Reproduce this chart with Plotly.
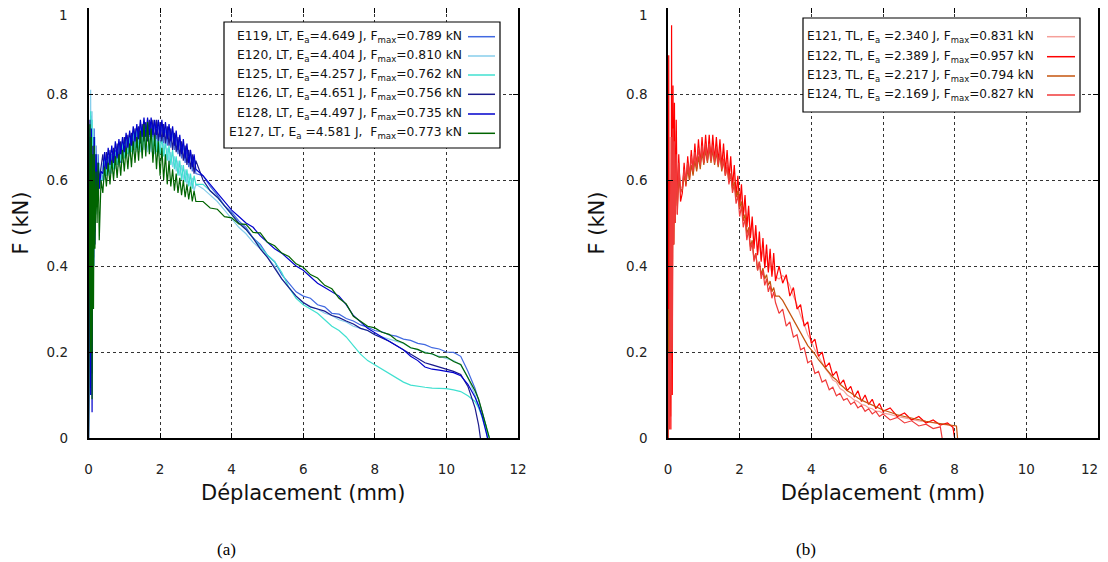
import plotly.graph_objects as go

# page is 1108x562; the html body has an 8px default margin, so the figure is 1100x554
PAGE_W, PAGE_H, OFF = 1108, 562, 8
W, H = PAGE_W - OFF, PAGE_H - OFF

# ---------------- data : panel (a) LT ----------------
X_LT = [0.00, 0.04, 0.06, 0.08, 0.10, 0.12, 0.14, 0.16, 0.18, 0.21, 0.24, 0.27, 0.30, 0.35,
        0.40, 0.45, 0.50, 0.55, 0.60, 0.65, 0.70, 0.75, 0.80, 0.85, 0.90, 0.95,
        1.00, 1.05, 1.10, 1.15, 1.20, 1.25, 1.30, 1.35, 1.40, 1.45, 1.50, 1.55, 1.60, 1.65,
        1.70, 1.75, 1.80, 1.85, 1.90, 1.95,
        2.00, 2.05, 2.10, 2.15, 2.20, 2.25, 2.30, 2.35, 2.40, 2.45, 2.50, 2.55, 2.60, 2.65,
        2.70, 2.75, 2.80, 2.85, 2.90, 2.95, 3.00,
        3.20, 3.40, 3.60, 3.80, 4.00, 4.20, 4.40, 4.60, 4.80, 5.00, 5.20, 5.40, 5.60, 5.80,
        6.00, 6.20, 6.40, 6.60, 6.80, 7.00, 7.20, 7.40, 7.60, 7.80, 8.00, 8.20, 8.40, 8.60,
        8.80, 9.00, 9.20, 9.40, 9.60, 9.80, 10.00, 10.20, 10.40]

E119_Y = [0.00, 0.72, 0.30, 0.75, 0.20, 0.70, 0.42, 0.72, 0.50, 0.68, 0.55, 0.66, 0.58, 0.62,
          0.60, 0.65, 0.61, 0.655, 0.615, 0.66, 0.625, 0.67, 0.635, 0.68,
          0.64, 0.69, 0.655, 0.70, 0.66, 0.705, 0.67, 0.715, 0.675, 0.72,
          0.68, 0.725, 0.685, 0.73, 0.69, 0.735, 0.69, 0.735, 0.695, 0.735,
          0.69, 0.735, 0.69, 0.73, 0.685, 0.725, 0.68, 0.72, 0.675, 0.715,
          0.67, 0.705, 0.66, 0.695, 0.65, 0.685, 0.64, 0.675, 0.63, 0.665,
          0.62, 0.655, 0.615,
          0.61, 0.585, 0.565, 0.54, 0.525, 0.505, 0.49, 0.465, 0.45, 0.425, 0.41, 0.38, 0.36,
          0.34, 0.33, 0.325, 0.31, 0.305, 0.29, 0.288, 0.278, 0.272, 0.263, 0.258, 0.25,
          0.247, 0.24, 0.237, 0.23, 0.227, 0.22, 0.217, 0.21, 0.207, 0.20, 0.199, 0.19]
E119_END_X = [10.6, 10.8, 10.9, 11.0, 11.1, 11.15]
E119_END_Y = [0.155, 0.115, 0.09, 0.06, 0.03, 0.0]

E120_Y = [0.00, 0.60, 0.81, 0.35, 0.76, 0.45, 0.72, 0.40, 0.70, 0.52, 0.66, 0.58, 0.64, 0.60,
          0.64, 0.60, 0.645, 0.61, 0.65, 0.615, 0.66, 0.625, 0.665, 0.63,
          0.675, 0.64, 0.68, 0.65, 0.69, 0.655, 0.695, 0.66, 0.70, 0.665,
          0.705, 0.665, 0.705, 0.67, 0.705, 0.665, 0.70, 0.665, 0.70, 0.66,
          0.695, 0.655, 0.69, 0.65, 0.685, 0.645, 0.675, 0.64, 0.665, 0.63,
          0.655, 0.62, 0.645, 0.61, 0.635, 0.60, 0.625, 0.59, 0.615, 0.585,
          0.605, 0.575, 0.59,
          0.58, 0.565, 0.55, 0.53, 0.51, 0.49, 0.475, 0.455, 0.44, 0.42, 0.40, 0.37, 0.35,
          0.33, 0.315, 0.305, 0.30, 0.29, 0.285, 0.275, 0.27, 0.26, 0.255, 0.25, 0.24,
          0.235, 0.23, 0.225, 0.22, 0.21, 0.205, 0.20, 0.195, 0.19, 0.185, 0.18, 0.17]
E120_END_X = [10.6, 10.8, 10.9, 11.0, 11.1, 11.15]
E120_END_Y = [0.14, 0.10, 0.075, 0.05, 0.02, 0.0]

E125_Y = [0.00, 0.55, 0.76, 0.30, 0.74, 0.40, 0.70, 0.45, 0.66, 0.55, 0.64, 0.57, 0.62, 0.60,
          0.60, 0.645, 0.61, 0.65, 0.62, 0.66, 0.625, 0.665, 0.635, 0.675,
          0.645, 0.685, 0.65, 0.695, 0.66, 0.70, 0.665, 0.71, 0.67, 0.715,
          0.67, 0.715, 0.675, 0.715, 0.675, 0.715, 0.67, 0.71, 0.67, 0.71,
          0.665, 0.705, 0.66, 0.70, 0.655, 0.69, 0.645, 0.68, 0.635, 0.67,
          0.625, 0.655, 0.61, 0.645, 0.60, 0.635, 0.595, 0.625, 0.585, 0.615,
          0.58, 0.61, 0.59,
          0.59, 0.575, 0.56, 0.54, 0.52, 0.50, 0.485, 0.465, 0.445, 0.425, 0.41, 0.385, 0.35,
          0.325, 0.31, 0.30, 0.29, 0.275, 0.26, 0.25, 0.235, 0.215, 0.195, 0.18, 0.17,
          0.16, 0.148, 0.14, 0.13, 0.123, 0.12, 0.118, 0.116, 0.115, 0.115, 0.112, 0.108]
E125_END_X = [10.6, 10.8, 10.9, 11.0, 11.1, 11.2]
E125_END_Y = [0.098, 0.085, 0.07, 0.05, 0.03, 0.0]

E126_Y = [0.00, 0.74, 0.25, 0.70, 0.15, 0.68, 0.40, 0.70, 0.48, 0.66, 0.56, 0.64, 0.60, 0.63,
          0.66, 0.615, 0.665, 0.62, 0.67, 0.63, 0.675, 0.635, 0.685, 0.645,
          0.69, 0.65, 0.70, 0.66, 0.705, 0.665, 0.71, 0.67, 0.72, 0.675,
          0.725, 0.685, 0.73, 0.69, 0.735, 0.69, 0.74, 0.695, 0.74, 0.69,
          0.74, 0.69, 0.735, 0.69, 0.73, 0.685, 0.725, 0.68, 0.72, 0.67,
          0.71, 0.665, 0.70, 0.655, 0.69, 0.645, 0.68, 0.635, 0.67, 0.625,
          0.66, 0.615, 0.645,
          0.60, 0.575, 0.56, 0.54, 0.52, 0.50, 0.485, 0.465, 0.44, 0.42, 0.395, 0.37, 0.35,
          0.33, 0.315, 0.305, 0.30, 0.295, 0.285, 0.28, 0.272, 0.265, 0.255, 0.25, 0.24,
          0.232, 0.225, 0.215, 0.205, 0.195, 0.185, 0.175, 0.17, 0.165, 0.16, 0.155, 0.148]
E126_END_X = [10.6, 10.8, 10.9, 10.95]
E126_END_Y = [0.12, 0.07, 0.03, 0.0]

E128_Y = [0.00, 0.70, 0.10, 0.72, 0.06, 0.66, 0.42, 0.70, 0.45, 0.66, 0.54, 0.64, 0.58, 0.62,
          0.615, 0.665, 0.625, 0.675, 0.635, 0.68, 0.64, 0.69, 0.65, 0.695,
          0.66, 0.70, 0.665, 0.71, 0.675, 0.715, 0.68, 0.725, 0.69, 0.73,
          0.695, 0.74, 0.70, 0.745, 0.70, 0.745, 0.705, 0.745, 0.705, 0.74,
          0.705, 0.74, 0.70, 0.74, 0.70, 0.735, 0.695, 0.73, 0.69, 0.725,
          0.68, 0.715, 0.67, 0.705, 0.66, 0.695, 0.65, 0.685, 0.64, 0.67,
          0.63, 0.66, 0.625,
          0.61, 0.59, 0.57, 0.55, 0.53, 0.515, 0.50, 0.49, 0.47, 0.455, 0.44, 0.43, 0.415,
          0.40, 0.39, 0.375, 0.36, 0.35, 0.34, 0.33, 0.31, 0.285, 0.27, 0.255, 0.245,
          0.235, 0.225, 0.215, 0.205, 0.19, 0.18, 0.165, 0.16, 0.158, 0.155, 0.152, 0.145]
E128_END_X = [10.6, 10.8, 10.9, 11.0, 11.1, 11.15]
E128_END_Y = [0.125, 0.095, 0.075, 0.05, 0.02, 0.0]

E127_Y = [0.00, 0.73, 0.20, 0.70, 0.09, 0.66, 0.30, 0.68, 0.44, 0.62, 0.50, 0.64, 0.46, 0.60,
          0.57, 0.63, 0.585, 0.64, 0.59, 0.645, 0.60, 0.655, 0.605, 0.66,
          0.61, 0.67, 0.62, 0.675, 0.625, 0.685, 0.63, 0.69, 0.64, 0.70,
          0.645, 0.715, 0.65, 0.73, 0.655, 0.735, 0.66, 0.72, 0.64, 0.705,
          0.625, 0.69, 0.61, 0.675, 0.60, 0.66, 0.59, 0.645, 0.585, 0.625,
          0.575, 0.615, 0.57, 0.605, 0.565, 0.60, 0.56, 0.59, 0.555, 0.585,
          0.55, 0.575, 0.55,
          0.55, 0.535, 0.532, 0.515, 0.512, 0.498, 0.497, 0.478, 0.477, 0.455, 0.447, 0.43,
          0.422, 0.405, 0.397, 0.38, 0.372, 0.355, 0.347, 0.325, 0.312, 0.283, 0.272, 0.26,
          0.256, 0.246, 0.241, 0.228, 0.221, 0.21, 0.206, 0.198, 0.196, 0.188, 0.189, 0.178, 0.171]
E127_END_X = [10.6, 10.8, 10.9, 11.0, 11.1, 11.2]
E127_END_Y = [0.14, 0.11, 0.09, 0.06, 0.035, 0.0]

# ---------------- data : panel (b) TL ----------------
X_TL = [0.00, 0.02, 0.04, 0.06, 0.08, 0.10, 0.12, 0.14, 0.16, 0.18, 0.20, 0.23, 0.26, 0.30, 0.35,
        0.40, 0.45, 0.50, 0.55, 0.60, 0.65, 0.70, 0.75, 0.80, 0.85, 0.90, 0.95,
        1.00, 1.05, 1.10, 1.15, 1.20, 1.25, 1.30, 1.35, 1.40, 1.45, 1.50, 1.55, 1.60, 1.65,
        1.70, 1.75, 1.80, 1.85, 1.90, 1.95,
        2.00, 2.05, 2.10, 2.15, 2.20, 2.25, 2.30, 2.35, 2.40, 2.45, 2.50, 2.55, 2.60, 2.65,
        2.70, 2.75, 2.80, 2.85, 2.90, 2.95, 3.00,
        3.10, 3.20, 3.30, 3.40, 3.50, 3.60, 3.70, 3.80, 3.90, 4.00, 4.10, 4.20, 4.30, 4.40,
        4.50, 4.60, 4.70, 4.80, 4.90, 5.00, 5.10, 5.20, 5.30, 5.40, 5.50, 5.60, 5.70, 5.80,
        5.90, 6.00, 6.20, 6.40, 6.60, 6.80, 7.00, 7.20, 7.40, 7.60]

E121_Y = [0.0, 0.5, 0.1, 0.7, 0.05, 0.6, 0.3, 0.75, 0.5, 0.70, 0.55, 0.68, 0.56, 0.64, 0.58,
          0.585, 0.63, 0.60, 0.645, 0.615, 0.66, 0.625, 0.67, 0.635, 0.68,
          0.645, 0.685, 0.65, 0.69, 0.655, 0.69, 0.655, 0.69, 0.65, 0.685,
          0.645, 0.68, 0.635, 0.665, 0.62, 0.65, 0.60, 0.635, 0.585, 0.615,
          0.56, 0.59, 0.54, 0.57, 0.515, 0.545, 0.49, 0.52, 0.47, 0.50,
          0.45, 0.475, 0.43, 0.455, 0.415, 0.44, 0.40, 0.425, 0.39, 0.41,
          0.38, 0.40, 0.375,
          0.37, 0.378, 0.37, 0.355, 0.33, 0.31, 0.285, 0.265, 0.24, 0.225, 0.205, 0.19, 0.175,
          0.16, 0.15, 0.135, 0.13, 0.115, 0.11, 0.10, 0.095, 0.088, 0.085, 0.078, 0.076, 0.07,
          0.068, 0.062, 0.062, 0.058, 0.055, 0.05, 0.047, 0.043, 0.04, 0.038, 0.035, 0.033]
E121_END_X = [7.8, 7.95, 8.0]
E121_END_Y = [0.03, 0.028, 0.0]

E122_Y = [0.0, 0.89, 0.05, 0.60, 0.02, 0.96, 0.10, 0.82, 0.45, 0.78, 0.50, 0.74, 0.52, 0.66, 0.55,
          0.57, 0.64, 0.585, 0.655, 0.60, 0.67, 0.615, 0.685, 0.625, 0.695,
          0.635, 0.70, 0.64, 0.705, 0.645, 0.705, 0.645, 0.705, 0.645, 0.70,
          0.64, 0.695, 0.63, 0.685, 0.62, 0.67, 0.605, 0.655, 0.585, 0.635,
          0.565, 0.61, 0.54, 0.59, 0.515, 0.565, 0.49, 0.54, 0.465, 0.515,
          0.44, 0.495, 0.425, 0.48, 0.41, 0.465, 0.395, 0.45, 0.385, 0.44,
          0.375, 0.43, 0.365,
          0.40, 0.36, 0.38, 0.33, 0.35, 0.30, 0.31, 0.26, 0.27, 0.22, 0.23, 0.19, 0.20,
          0.165, 0.175, 0.145, 0.155, 0.125, 0.135, 0.11, 0.12, 0.095, 0.11, 0.085, 0.10,
          0.078, 0.09, 0.068, 0.08, 0.062, 0.07, 0.05, 0.058, 0.042, 0.05, 0.035, 0.042, 0.03]
E122_END_X = [7.8, 7.95, 8.0]
E122_END_Y = [0.035, 0.025, 0.0]

E123_Y = [0.0, 0.3, 0.05, 0.55, 0.2, 0.62, 0.35, 0.64, 0.45, 0.63, 0.50, 0.62, 0.54, 0.60, 0.58,
          0.575, 0.61, 0.59, 0.625, 0.60, 0.635, 0.61, 0.645, 0.62, 0.655,
          0.625, 0.665, 0.635, 0.67, 0.64, 0.675, 0.64, 0.67, 0.635, 0.665,
          0.63, 0.66, 0.62, 0.645, 0.61, 0.63, 0.595, 0.615, 0.58, 0.595,
          0.56, 0.575, 0.535, 0.55, 0.505, 0.52, 0.475, 0.49, 0.445, 0.46,
          0.415, 0.43, 0.39, 0.41, 0.38, 0.395, 0.37, 0.38, 0.355, 0.365,
          0.34, 0.35, 0.33,
          0.33, 0.32, 0.305, 0.29, 0.275, 0.26, 0.245, 0.232, 0.215, 0.205, 0.195, 0.182,
          0.172, 0.16, 0.152, 0.142, 0.135, 0.125, 0.118, 0.11, 0.105, 0.098, 0.093, 0.088,
          0.084, 0.08, 0.076, 0.072, 0.068, 0.065, 0.06, 0.054, 0.05, 0.046, 0.042, 0.039,
          0.036, 0.034]
E123_END_X = [7.8, 8.05, 8.08]
E123_END_Y = [0.032, 0.028, 0.0]

E124_Y = [0.0, 0.2, 0.02, 0.6, 0.1, 0.7, 0.2, 0.72, 0.45, 0.69, 0.5, 0.66, 0.52, 0.64, 0.57,
          0.58, 0.625, 0.595, 0.64, 0.61, 0.655, 0.62, 0.665, 0.63, 0.675,
          0.635, 0.68, 0.64, 0.685, 0.645, 0.685, 0.645, 0.68, 0.64, 0.675,
          0.635, 0.665, 0.625, 0.65, 0.61, 0.635, 0.59, 0.615, 0.57, 0.59,
          0.545, 0.565, 0.515, 0.54, 0.49, 0.51, 0.46, 0.485, 0.435, 0.455,
          0.41, 0.43, 0.39, 0.41, 0.37, 0.39, 0.355, 0.37, 0.34, 0.355,
          0.325, 0.34, 0.315,
          0.29, 0.30, 0.26, 0.27, 0.235, 0.24, 0.205, 0.21, 0.175, 0.18, 0.15, 0.155, 0.13,
          0.135, 0.112, 0.118, 0.098, 0.104, 0.088, 0.092, 0.078, 0.084, 0.07, 0.076, 0.062,
          0.068, 0.056, 0.062, 0.05, 0.056, 0.042, 0.048, 0.035, 0.04, 0.028, 0.032, 0.022, 0.026]
E124_END_X = [7.65]
E124_END_Y = [0.0]

LT_NAMES = ["E119", "E120", "E125", "E126", "E128", "E127"]
LT_LABELS = [
    "E119, LT, E<sub>a</sub>=4.649 J, F<sub>max</sub>=0.789 kN",
    "E120, LT, E<sub>a</sub>=4.404 J, F<sub>max</sub>=0.810 kN",
    "E125, LT, E<sub>a</sub>=4.257 J, F<sub>max</sub>=0.762 kN",
    "E126, LT, E<sub>a</sub>=4.651 J, F<sub>max</sub>=0.756 kN",
    "E128, LT, E<sub>a</sub>=4.497 J, F<sub>max</sub>=0.735 kN",
    "E127, LT, E<sub>a</sub> =4.581 J,  F<sub>max</sub>=0.773 kN",
]
TL_NAMES = ["E121", "E122", "E123", "E124"]
TL_LABELS = [
    "E121, TL, E<sub>a</sub> =2.340 J, F<sub>max</sub>=0.831 kN",
    "E122, TL, E<sub>a</sub> =2.389 J, F<sub>max</sub>=0.957 kN",
    "E123, TL, E<sub>a</sub> =2.217 J, F<sub>max</sub>=0.794 kN",
    "E124, TL, E<sub>a</sub> =2.169 J, F<sub>max</sub>=0.827 kN",
]
LT_COLORS = ["#4169E1", "#87CEEB", "#40E0D0", "#1A1A8C", "#0000CD", "#006400"]
TL_COLORS = ["#F5A09A", "#FF0000", "#C4540E", "#F03A3A"]

LT_SERIES = [(E119_Y, E119_END_X, E119_END_Y), (E120_Y, E120_END_X, E120_END_Y),
             (E125_Y, E125_END_X, E125_END_Y), (E126_Y, E126_END_X, E126_END_Y),
             (E128_Y, E128_END_X, E128_END_Y), (E127_Y, E127_END_X, E127_END_Y)]
TL_SERIES = [(E121_Y, E121_END_X, E121_END_Y), (E122_Y, E122_END_X, E122_END_Y),
             (E123_Y, E123_END_X, E123_END_Y), (E124_Y, E124_END_X, E124_END_Y)]

X_TICKS = [0, 2, 4, 6, 8, 10, 12]
X_TICKTEXT = ["0", "2", "4", "6", "8", "10", "12"]
X2_TICKTEXT = ["0", "2", "4", "6", "8", "10", ""]     # right-most "12" drawn pulled in, as in the reference
Y_TICKS = [0, 0.2, 0.4, 0.6, 0.8, 1]
Y_TICKTEXT = ["0", "0.2", "0.4", "0.6", "0.8", ""]   # "1" is drawn slightly lower, as in the reference

fig = go.Figure()

for name, color, (ys, ex, ey) in zip(LT_NAMES, LT_COLORS, LT_SERIES):
    if len(ys) != len(X_LT):
        raise ValueError(f"{name}: {len(ys)} vs {len(X_LT)}")
    fig.add_trace(go.Scatter(x=X_LT + ex, y=ys + ey, mode="lines", name=name,
                             line=dict(color=color, width=1.2), xaxis="x", yaxis="y",
                             showlegend=False))

for name, color, (ys, ex, ey) in zip(TL_NAMES, TL_COLORS, TL_SERIES):
    if len(ys) != len(X_TL):
        raise ValueError(f"{name}: {len(ys)} vs {len(X_TL)}")
    fig.add_trace(go.Scatter(x=X_TL + ex, y=ys + ey, mode="lines", name=name,
                             line=dict(color=color, width=1.2), xaxis="x2", yaxis="y2",
                             showlegend=False))


def px(x):
    """page pixel x -> paper fraction"""
    return (x - OFF) / W


def py(y):
    """page pixel y -> paper fraction"""
    return 1 - (y - OFF) / H


tick_font = dict(family="DejaVu Sans", size=13.5, color="#222")
title_font = dict(family="DejaVu Sans", size=21, color="#111")

common = dict(showgrid=True, gridcolor="#333", griddash="dot", gridwidth=1,
              showline=True, linecolor="black", linewidth=1.5, mirror="ticks",
              ticks="inside", ticklen=5, tickcolor="black", zeroline=False,
              tickfont=tick_font, automargin=False, ticklabeloverflow="allow")

ydom = [py(438), py(8)]
fig.update_layout(
    template="none",
    width=W, height=H, autosize=False,
    margin=dict(l=0, r=0, t=0, b=0),
    paper_bgcolor="white", plot_bgcolor="white",
    showlegend=False,
    xaxis=dict(domain=[px(88.5), px(518)], range=[0, 12.0001], tickvals=X_TICKS,
               ticktext=X_TICKTEXT, anchor="y", ticklabelstandoff=18,
               title=dict(text="Déplacement (mm)", font=title_font, standoff=9), **common),
    yaxis=dict(domain=ydom, range=[0, 1.0001], tickvals=Y_TICKS, ticktext=Y_TICKTEXT,
               anchor="x", ticklabelstandoff=16,
               title=dict(text="F (kN)", font=title_font, standoff=12), **common),
    xaxis2=dict(domain=[px(668), px(1098)], range=[0, 12.0001], tickvals=X_TICKS,
                ticktext=X2_TICKTEXT, anchor="y2", ticklabelstandoff=18,
                title=dict(text="Déplacement (mm)", font=title_font, standoff=9), **common),
    yaxis2=dict(domain=ydom, range=[0, 1.0001], tickvals=Y_TICKS, ticktext=Y_TICKTEXT,
                anchor="x2", ticklabelstandoff=16,
                title=dict(text="F (kN)", font=title_font, standoff=16), **common),
)

shapes = []
annotations = []


def build_legend(box, rows, labels, colors, text_right, line_x, fsize):
    x0, x1, y0, y1 = box
    font = dict(family="DejaVu Sans", size=fsize, color="#111")
    shapes.append(dict(type="rect", xref="paper", yref="paper", x0=px(x0), x1=px(x1),
                       y0=py(y1), y1=py(y0), line=dict(color="black", width=1.2),
                       fillcolor="white", layer="above"))
    for yy, lab, col in zip(rows, labels, colors):
        annotations.append(dict(xref="paper", yref="paper", x=px(text_right), y=py(yy),
                                text=lab, showarrow=False, xanchor="right", yanchor="middle",
                                font=font))
        shapes.append(dict(type="line", xref="paper", yref="paper", x0=px(line_x[0]),
                           x1=px(line_x[1]), y0=py(yy), y1=py(yy),
                           line=dict(color=col, width=1.5), layer="above"))


build_legend((224, 500, 22, 148), [36.7, 56, 75, 94.3, 114, 133.3], LT_LABELS, LT_COLORS,
             464, (468, 495), 12.3)
build_legend((803, 1080, 18, 112), [36.7, 56.7, 76, 95], TL_LABELS, TL_COLORS,
             1036, (1047, 1075), 12.1)

# edge tick labels placed inside the page, like the reference
for xr in (69.5, 649.5):
    annotations.append(dict(xref="paper", yref="paper", x=px(xr), y=py(15), text="1",
                            showarrow=False, xanchor="right", yanchor="middle", font=tick_font))
annotations.append(dict(xref="paper", yref="paper", x=px(1100), y=py(469), text="12",
                        showarrow=False, xanchor="right", yanchor="middle", font=tick_font))

cap_font = dict(family="Liberation Serif", size=17, color="black")
annotations.append(dict(xref="paper", yref="paper", x=px(226), y=py(549), text="(a)",
                        showarrow=False, xanchor="center", yanchor="middle", font=cap_font))
annotations.append(dict(xref="paper", yref="paper", x=px(806), y=py(549), text="(b)",
                        showarrow=False, xanchor="center", yanchor="middle", font=cap_font))

fig.update_layout(shapes=shapes, annotations=annotations)
fig.write_html("out.html")
